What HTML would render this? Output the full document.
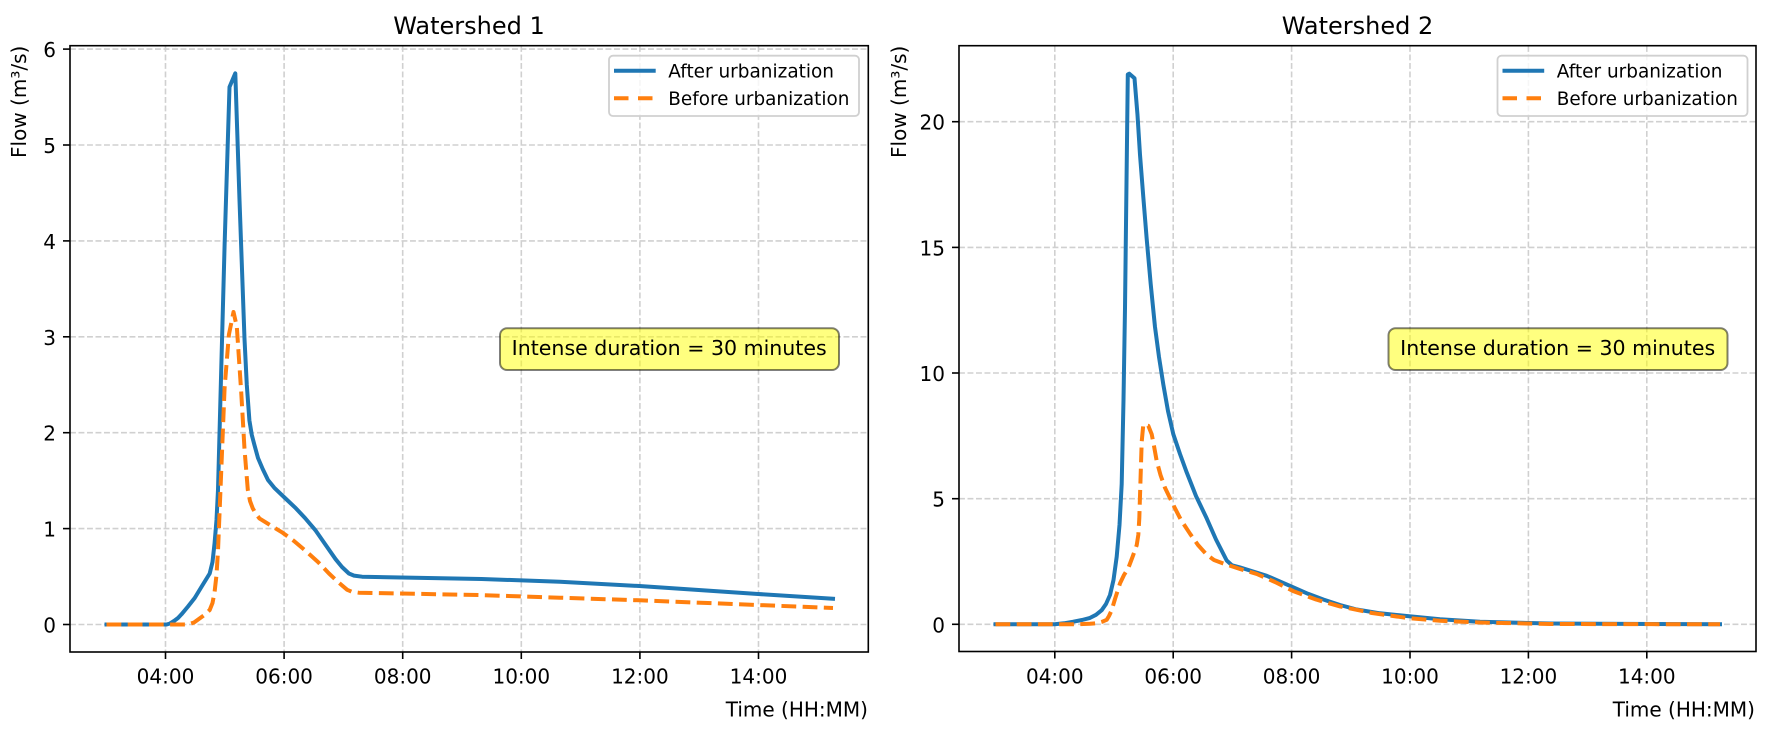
<!DOCTYPE html>
<html><head><meta charset="utf-8"><style>
html,body{margin:0;padding:0;background:#fff;}
svg{display:block;font-family:"DejaVu Sans","Liberation Sans",sans-serif;}
</style></head><body>
<svg width="1772" height="730" viewBox="0 0 1772 730" xmlns="http://www.w3.org/2000/svg">
<rect width="1772" height="730" fill="#fff"/>

<!-- ================= LEFT PLOT ================= -->
<g id="left">
  <g stroke="#d0d0d0" stroke-width="1.6" stroke-dasharray="5.9,2.6" fill="none">
    <line x1="165.5" y1="46" x2="165.5" y2="652"/>
    <line x1="284.1" y1="46" x2="284.1" y2="652"/>
    <line x1="402.7" y1="46" x2="402.7" y2="652"/>
    <line x1="521.3" y1="46" x2="521.3" y2="652"/>
    <line x1="639.9" y1="46" x2="639.9" y2="652"/>
    <line x1="758.5" y1="46" x2="758.5" y2="652"/>
    <line x1="70" y1="624.5" x2="868" y2="624.5"/>
    <line x1="70" y1="528.6" x2="868" y2="528.6"/>
    <line x1="70" y1="432.7" x2="868" y2="432.7"/>
    <line x1="70" y1="336.8" x2="868" y2="336.8"/>
    <line x1="70" y1="240.9" x2="868" y2="240.9"/>
    <line x1="70" y1="145" x2="868" y2="145"/>
    <line x1="70" y1="49.1" x2="868" y2="49.1"/>
  </g>
  <polyline fill="none" stroke="#1f77b4" stroke-width="4" stroke-linejoin="round" stroke-linecap="square"
    points="106.5,624.5 166.6,624.5 170,623.5 174,621 178,618 181.5,614.3 188,606.5 194.7,598 202,586 209.7,573.5 212.5,562 214.6,542.9 216.5,520 218,489.8 221.3,367 224.6,245 229.5,87 235.3,73.3 239.5,200 244.5,338.8 246.8,385 249.4,420.4 251.8,435 254.4,444.9 258,458 262.7,469 268,480 274.3,487.8 285,498 295.8,508.2 305,518 315.7,530.6 325,544 335.6,559.2 342,567 348.9,573.5 354,575.6 362.1,576.7 481.5,579 560,581.7 639.3,586 758,594 833,598.7"/>
  <polyline fill="none" stroke="#ff7f0e" stroke-width="4" stroke-linejoin="round" stroke-dasharray="14.8,6.4"
    points="106.5,624.5 188,624.5 194,622.5 199.7,618.4 205,614.5 209.7,610 212.5,603 214.6,591.8 216.5,575 218,551 221.3,469.4 224.6,387.8 228.9,334.7 233.5,312 236.8,326.5 241.2,391.8 244.5,449 247.8,489.8 250,501 252.7,508.2 256,514 259.4,518.4 270,525 282.6,532.7 294,541 305.8,551 318,562 329,573.5 338,582 347.2,589.8 352,591.8 358.8,592.7 481.5,595.1 560,597.7 639.3,600.3 758,605 833,608"/>
  <rect x="70" y="45.7" width="798.3" height="606.3" fill="none" stroke="#000" stroke-width="1.6"/>
  <g stroke="#000" stroke-width="1.6">
    <line x1="165.5" y1="652" x2="165.5" y2="659"/>
    <line x1="284.1" y1="652" x2="284.1" y2="659"/>
    <line x1="402.7" y1="652" x2="402.7" y2="659"/>
    <line x1="521.3" y1="652" x2="521.3" y2="659"/>
    <line x1="639.9" y1="652" x2="639.9" y2="659"/>
    <line x1="758.5" y1="652" x2="758.5" y2="659"/>
    <line x1="63" y1="624.5" x2="70" y2="624.5"/>
    <line x1="63" y1="528.6" x2="70" y2="528.6"/>
    <line x1="63" y1="432.7" x2="70" y2="432.7"/>
    <line x1="63" y1="336.8" x2="70" y2="336.8"/>
    <line x1="63" y1="240.9" x2="70" y2="240.9"/>
    <line x1="63" y1="145" x2="70" y2="145"/>
    <line x1="63" y1="49.1" x2="70" y2="49.1"/>
  </g>
  <g font-size="20" fill="#000">
    <g text-anchor="middle">
      <text x="165.5" y="683.3">04:00</text>
      <text x="284.1" y="683.3">06:00</text>
      <text x="402.7" y="683.3">08:00</text>
      <text x="521.3" y="683.3">10:00</text>
      <text x="639.9" y="683.3">12:00</text>
      <text x="758.5" y="683.3">14:00</text>
    </g>
    <g text-anchor="end">
      <text x="56" y="632.5">0</text>
      <text x="56" y="536.6">1</text>
      <text x="56" y="440.7">2</text>
      <text x="56" y="344.8">3</text>
      <text x="56" y="248.9">4</text>
      <text x="56" y="153">5</text>
      <text x="56" y="57.1">6</text>
    </g>
    <text x="868" y="716.7" text-anchor="end">Time (HH:MM)</text>
    <text transform="translate(26,45.7) rotate(-90)" text-anchor="end">Flow (m³/s)</text>
  </g>
  <text x="469" y="34" font-size="24" text-anchor="middle" fill="#000">Watershed 1</text>
  <rect x="609" y="55.7" width="250" height="60.3" rx="4" ry="4" fill="#fff" fill-opacity="0.8" stroke="#d0d0d0" stroke-width="1.8"/>
  <line x1="614" y1="70.7" x2="655.7" y2="70.7" stroke="#1f77b4" stroke-width="4"/>
  <line x1="614" y1="98.3" x2="656" y2="98.3" stroke="#ff7f0e" stroke-width="4" stroke-dasharray="14.5,9.5"/>
  <text x="668.3" y="77.3" font-size="18.4" textLength="165.7" lengthAdjust="spacingAndGlyphs">After urbanization</text>
  <text x="668.3" y="104.8" font-size="18.4">Before urbanization</text>
  <rect x="500" y="328.3" width="339" height="41.7" rx="7" ry="7" fill="#ffff00" fill-opacity="0.5" stroke="#000" stroke-opacity="0.5" stroke-width="2"/>
  <text x="511.7" y="355" font-size="20" textLength="315" lengthAdjust="spacingAndGlyphs">Intense duration = 30 minutes</text>
</g>

<!-- ================= RIGHT PLOT ================= -->
<g id="right">
  <g stroke="#d0d0d0" stroke-width="1.6" stroke-dasharray="5.9,2.6" fill="none">
    <line x1="1054.8" y1="46" x2="1054.8" y2="651.5"/>
    <line x1="1173.2" y1="46" x2="1173.2" y2="651.5"/>
    <line x1="1291.6" y1="46" x2="1291.6" y2="651.5"/>
    <line x1="1410" y1="46" x2="1410" y2="651.5"/>
    <line x1="1528.4" y1="46" x2="1528.4" y2="651.5"/>
    <line x1="1646.8" y1="46" x2="1646.8" y2="651.5"/>
    <line x1="959" y1="624.3" x2="1756" y2="624.3"/>
    <line x1="959" y1="498.7" x2="1756" y2="498.7"/>
    <line x1="959" y1="373" x2="1756" y2="373"/>
    <line x1="959" y1="247.4" x2="1756" y2="247.4"/>
    <line x1="959" y1="121.7" x2="1756" y2="121.7"/>
  </g>
  <polyline fill="none" stroke="#1f77b4" stroke-width="4" stroke-linejoin="round" stroke-linecap="square"
    points="995.5,624.3 1054.8,624.3 1064,623.3 1073.3,621.7 1082,620 1090,617.9 1096,614.8 1101.7,610.2 1106,604 1110,595 1113.5,580 1116.7,556.7 1119.5,525 1121.7,484 1123.5,400 1125,308 1127.8,74.4 1129.3,73.7 1134.5,78.3 1137.5,115 1140,154.8 1143.3,197 1146.7,239 1150.7,284 1155,327 1159,357 1163.3,384.4 1168,411 1173.3,434.2 1180,454 1186.7,472.4 1196,496 1206.7,518.4 1216,539.5 1226.7,560.5 1232,565.3 1240,567.4 1266.7,575.8 1293.3,587.3 1308,593.8 1323.3,599.5 1340,605 1356.7,609.5 1380,613.3 1406.7,616 1440,619.3 1480,621.7 1550,623.5 1720,624.3"/>
  <polyline fill="none" stroke="#ff7f0e" stroke-width="4" stroke-linejoin="round" stroke-dasharray="14.8,6.4"
    points="995.5,624.3 1073,624.3 1090,623.8 1096.7,623.3 1102,621.8 1106.7,619.8 1109,616 1111.7,610.2 1115,599 1120,583.4 1124,575 1128.3,568.1 1132.5,557 1136.7,545.2 1138.3,535 1139.3,518.4 1140.5,480 1141.7,441.8 1143.3,424.6 1148.3,425.8 1151.7,434.2 1154,446 1156.7,461 1160.5,475 1165,487.8 1173.3,505 1181,520 1190,533.7 1198,545 1206.7,554.7 1214,560 1223.3,563.5 1240,569 1256.7,573.9 1275,582 1293.3,591.1 1316,599.5 1340,606.4 1372,613 1406.7,617.9 1440,620.8 1480,622.5 1550,624 1720,624.3"/>
  <rect x="959" y="45.7" width="797" height="605.8" fill="none" stroke="#000" stroke-width="1.6"/>
  <g stroke="#000" stroke-width="1.6">
    <line x1="1054.8" y1="651.5" x2="1054.8" y2="658.5"/>
    <line x1="1173.2" y1="651.5" x2="1173.2" y2="658.5"/>
    <line x1="1291.6" y1="651.5" x2="1291.6" y2="658.5"/>
    <line x1="1410" y1="651.5" x2="1410" y2="658.5"/>
    <line x1="1528.4" y1="651.5" x2="1528.4" y2="658.5"/>
    <line x1="1646.8" y1="651.5" x2="1646.8" y2="658.5"/>
    <line x1="952" y1="624.3" x2="959" y2="624.3"/>
    <line x1="952" y1="498.7" x2="959" y2="498.7"/>
    <line x1="952" y1="373" x2="959" y2="373"/>
    <line x1="952" y1="247.4" x2="959" y2="247.4"/>
    <line x1="952" y1="121.7" x2="959" y2="121.7"/>
  </g>
  <g font-size="20" fill="#000">
    <g text-anchor="middle">
      <text x="1054.8" y="683.3">04:00</text>
      <text x="1173.2" y="683.3">06:00</text>
      <text x="1291.6" y="683.3">08:00</text>
      <text x="1410" y="683.3">10:00</text>
      <text x="1528.4" y="683.3">12:00</text>
      <text x="1646.8" y="683.3">14:00</text>
    </g>
    <g text-anchor="end">
      <text x="945" y="632.3">0</text>
      <text x="945" y="506.7">5</text>
      <text x="945" y="381">10</text>
      <text x="945" y="255.4">15</text>
      <text x="945" y="129.7">20</text>
    </g>
    <text x="1755" y="716.7" text-anchor="end">Time (HH:MM)</text>
    <text transform="translate(906,45.7) rotate(-90)" text-anchor="end">Flow (m³/s)</text>
  </g>
  <text x="1357.5" y="34" font-size="24" text-anchor="middle" fill="#000">Watershed 2</text>
  <rect x="1497.5" y="55.7" width="250" height="60.3" rx="4" ry="4" fill="#fff" fill-opacity="0.8" stroke="#d0d0d0" stroke-width="1.8"/>
  <line x1="1502.5" y1="70.7" x2="1544.2" y2="70.7" stroke="#1f77b4" stroke-width="4"/>
  <line x1="1502.5" y1="98.3" x2="1544.5" y2="98.3" stroke="#ff7f0e" stroke-width="4" stroke-dasharray="14.5,9.5"/>
  <text x="1556.8" y="77.3" font-size="18.4" textLength="165.7" lengthAdjust="spacingAndGlyphs">After urbanization</text>
  <text x="1556.8" y="104.8" font-size="18.4">Before urbanization</text>
  <rect x="1388.5" y="328.3" width="339" height="41.7" rx="7" ry="7" fill="#ffff00" fill-opacity="0.5" stroke="#000" stroke-opacity="0.5" stroke-width="2"/>
  <text x="1400.2" y="355" font-size="20" textLength="315" lengthAdjust="spacingAndGlyphs">Intense duration = 30 minutes</text>
</g>
</svg>
</body></html>
